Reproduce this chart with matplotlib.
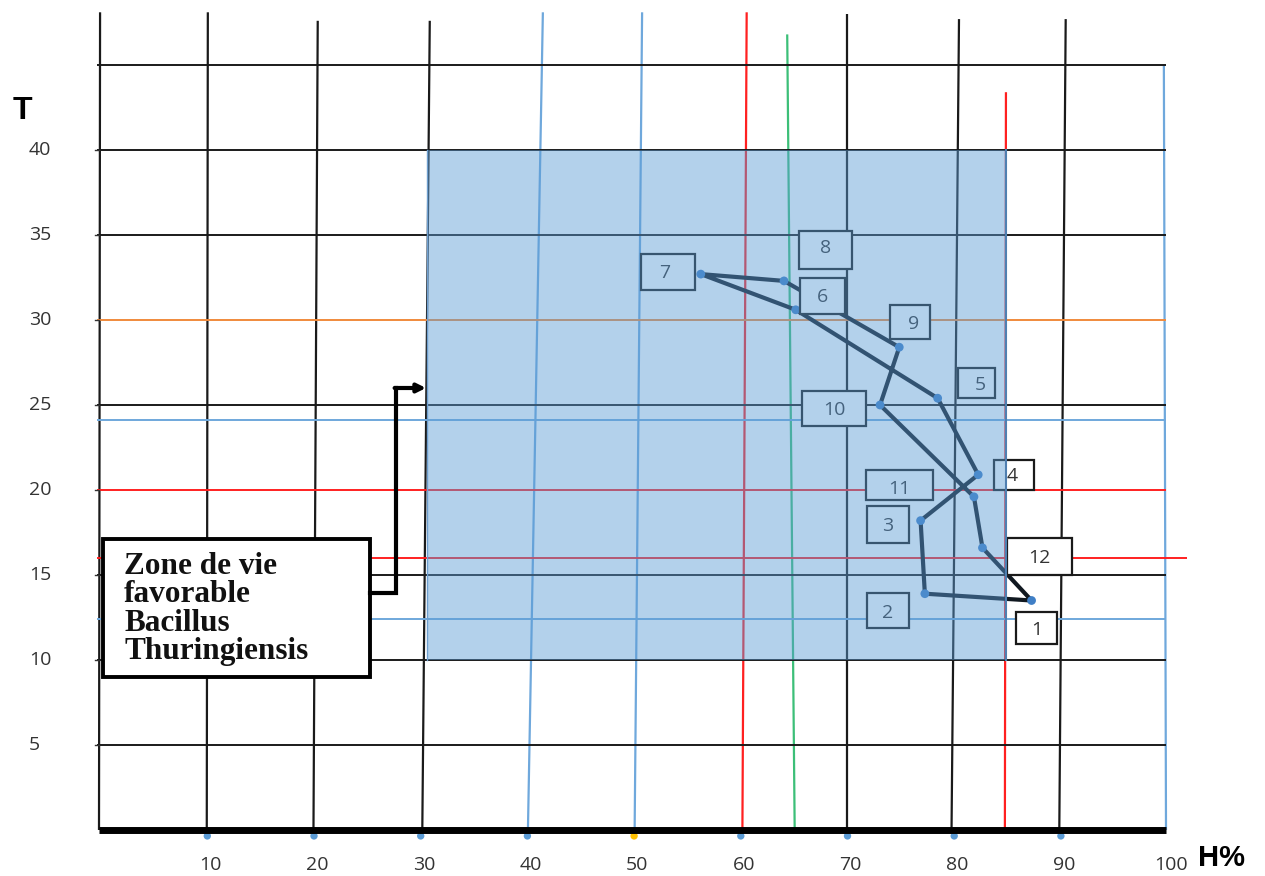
import matplotlib
matplotlib.use("Agg")
import matplotlib.pyplot as plt
from matplotlib.patches import Rectangle
from matplotlib import font_manager as fm

# ---------------- data ----------------
months = ["1", "2", "3", "4", "5", "6", "7", "8", "9", "10", "11", "12"]
humidity = [87.4, 77.4, 77.0, 82.4, 78.6, 65.3, 56.4, 64.2, 75.0, 73.2, 82.0, 82.8]
temperature = [13.5, 13.9, 18.2, 20.9, 25.4, 30.6, 32.7, 32.3, 28.4, 25.0, 19.6, 16.6]

x_ticks = [10, 20, 30, 40, 50, 60, 70, 80, 90, 100]
y_ticks = [5, 10, 15, 20, 25, 30, 35, 40]

zone_h = [30.7, 85.0]     # favourable zone, humidity range
zone_t = [10, 40]         # favourable zone, temperature range
zone_label = "Zone de vie\nfavorable\nBacillus\nThuringiensis"

# ---------------- fonts ----------------
avail = {f.name for f in fm.fontManager.ttflist}
num_font = "Open Sans" if "Open Sans" in avail else ("Lato" if "Lato" in avail else "DejaVu Sans")
narrow_font = "Liberation Sans Narrow" if "Liberation Sans Narrow" in avail else num_font
serif_font = "Liberation Serif" if "Liberation Serif" in avail else "DejaVu Serif"
bold_font = "Liberation Sans" if "Liberation Sans" in avail else "DejaVu Sans"

W, H = 1265, 876
fig = plt.figure(figsize=(W / 100, H / 100), dpi=100)
fig.patch.set_facecolor("white")

PX_X = 10.67   # px per % humidity
PX_Y = 17.0    # px per degree
x0_px, y0_px = 99, 830
top_T = y0_px / PX_Y
ax = fig.add_axes([x0_px / W, (H - y0_px) / H, 100 * PX_X / W, y0_px / H])
ax.set_xlim(0, 100)
ax.set_ylim(0, top_T)
ax.axis("off")

def dx(px):
    return px / PX_X

def dy(px):
    return px / PX_Y

# ---------------- vertical grid lines (slightly tilted, as drawn) ----------------
black = "#1a1a1a"
lblue = "#6fa8dc"
red = "#ff2020"
green = "#3cbf78"
orange = "#f08a3c"
# (x at bottom, x at top, top T, colour, lw)
verticals = [
    (0.0, 0.1, 48.1, black, 1.6),
    (10.1, 10.2, 48.1, black, 1.6),
    (20.1, 20.5, 47.6, black, 1.6),
    (30.3, 31.0, 47.6, black, 1.6),
    (40.2, 41.6, 48.1, lblue, 1.6),
    (50.2, 50.9, 48.1, lblue, 1.6),
    (60.3, 60.7, 48.1, red, 1.6),
    (65.2, 64.5, 46.8, green, 1.6),
    (70.1, 70.1, 48.0, black, 1.6),
    (79.9, 80.6, 47.7, black, 1.6),
    (84.9, 85.0, 43.4, red, 1.6),
    (90.0, 90.6, 47.7, black, 1.6),
    (100.0, 99.8, 45.0, lblue, 1.6),
]
for xb, xt, tt, c, lw in verticals:
    ax.plot([xb, xt], [0, tt], color=c, lw=lw, zorder=1, clip_on=False,
            solid_capstyle="butt")

# ---------------- horizontal grid lines ----------------
# (T, x end, colour)
horizontals = [
    (45.0, 100, black), (40.0, 100, black), (35.0, 100, black),
    (30.0, 100, orange), (25.0, 100, black), (24.1, 100, lblue),
    (20.0, 100, red), (16.0, 102.0, red), (15.0, 100, black),
    (12.4, 100, lblue), (10.0, 100, black), (5.0, 100, black),
]
for t, xe, c in horizontals:
    ax.plot([-0.2, xe], [t, t], color=c, lw=1.4, zorder=1, clip_on=False,
            solid_capstyle="butt")

# small ticks at left
for t in y_ticks:
    ax.plot([-0.35, 0], [t, t], color="#333333", lw=1.0, clip_on=False, zorder=1)

# ---------------- data path (closed loop) ----------------
hx = humidity + [humidity[0]]
ty = temperature + [temperature[0]]
ax.plot(hx, ty, color="#101820", lw=3.0, zorder=3, solid_joinstyle="round")
ax.scatter(humidity, temperature, s=40, color="#3f7fc6", zorder=4, edgecolors="none")

# ---------------- month label boxes ----------------
# (centre H, centre T, width px, height px, text dx px, text dy px)
label_boxes = [
    (87.9, 11.9, 41, 32, 0, -2),
    (73.9, 12.9, 42, 35, 0, -2),
    (73.9, 18.0, 42, 37, 0, -2),
    (85.8, 20.9, 40, 30, -2, -1),
    (82.2, 26.3, 37, 30, 4, -2),
    (67.8, 31.4, 45, 36, 0, -1),
    (53.3, 32.8, 54, 36, -3, -1),
    (68.1, 34.1, 53, 38, 0, 2),
    (76.0, 29.9, 40, 34, 4, -2),
    (68.9, 24.8, 64, 35, 0, -2),
    (75.0, 20.3, 67, 30, 0, -4),
    (88.1, 16.1, 65, 37, 0, -2),
]
for lab, (cx, cy, wp, hp, tdx, tdy) in zip(months, label_boxes):
    ax.add_patch(Rectangle((cx - dx(wp) / 2, cy - dy(hp) / 2), dx(wp), dy(hp),
                           facecolor="white", edgecolor="#1a1a1a", lw=1.6, zorder=5))
    ax.text(cx + dx(tdx), cy + dy(tdy), lab, ha="center", va="center",
            fontsize=14, color="#333333", family=num_font, zorder=6)

# ---------------- favourable zone (semi-transparent, over the grid) ----------------
ax.add_patch(Rectangle((zone_h[0], zone_t[0]), zone_h[1] - zone_h[0], zone_t[1] - zone_t[0],
                       facecolor="#5b9bd5", alpha=0.46, edgecolor="none", zorder=7))
ax.plot([zone_h[1], zone_h[1]], [zone_t[0], zone_t[1]], color="#4f7fb0", lw=1.5, zorder=7)
ax.plot([zone_h[0], zone_h[0]], [zone_t[0], zone_t[1]], color="#6f9fcf", lw=1.0, zorder=7)

# ---------------- bottom axis ----------------
ax.plot([0, 100], [0, 0], color="black", lw=5, zorder=8, clip_on=False,
        solid_capstyle="butt")
for xt in x_ticks[:-1]:
    col = "#ffc000" if xt == 50 else "#5b9bd5"
    ax.scatter([xt + 0.15], [-0.35], s=28, color=col, zorder=7, clip_on=False,
               edgecolors="none")

# tick labels
for xt in x_ticks:
    ax.text(xt + 0.45, -2.05, str(xt), ha="center", va="center", fontsize=14,
            color="#333333", family=narrow_font, clip_on=False)
for t in y_ticks:
    ax.text(dx(29 - x0_px), t, str(t), ha="left", va="center", fontsize=14,
            color="#333333", family=num_font, clip_on=False)

ax.text(dx(22 - x0_px), dy(y0_px - 111), "T", ha="center", va="center", fontsize=23,
        fontweight="bold", color="black", family=bold_font)
ax.text(dx(1222 - x0_px), dy(y0_px - 858), "H%", ha="center", va="center", fontsize=21,
        fontweight="bold", color="black", family=bold_font)

# ---------------- annotation box and arrow ----------------
bx0, bx1 = dx(103 - x0_px), dx(370 - x0_px)
by0, by1 = dy(y0_px - 677), dy(y0_px - 539)
ax.add_patch(Rectangle((bx0, by0), bx1 - bx0, by1 - by0, facecolor="white",
                       edgecolor="black", lw=2.8, zorder=9))
ax.text(dx(124 - x0_px), dy(y0_px - 552), zone_label, ha="left", va="top",
        fontsize=22.5, fontweight="bold", family=serif_font, color="#111111",
        linespacing=0.97, zorder=10)
ax_x = dx(396 - x0_px)
ax.plot([bx1, ax_x, ax_x], [dy(y0_px - 593), dy(y0_px - 593), dy(y0_px - 388)],
        color="black", lw=3, zorder=10, solid_joinstyle="miter")
ax.annotate("", xy=(dx(426 - x0_px), dy(y0_px - 388)), xytext=(ax_x - 0.13, dy(y0_px - 388)),
            arrowprops=dict(arrowstyle="-|>,head_length=0.5,head_width=0.25",
                            color="black", lw=3, shrinkA=0, shrinkB=0), zorder=10)

fig.savefig("out.png", dpi=100)
